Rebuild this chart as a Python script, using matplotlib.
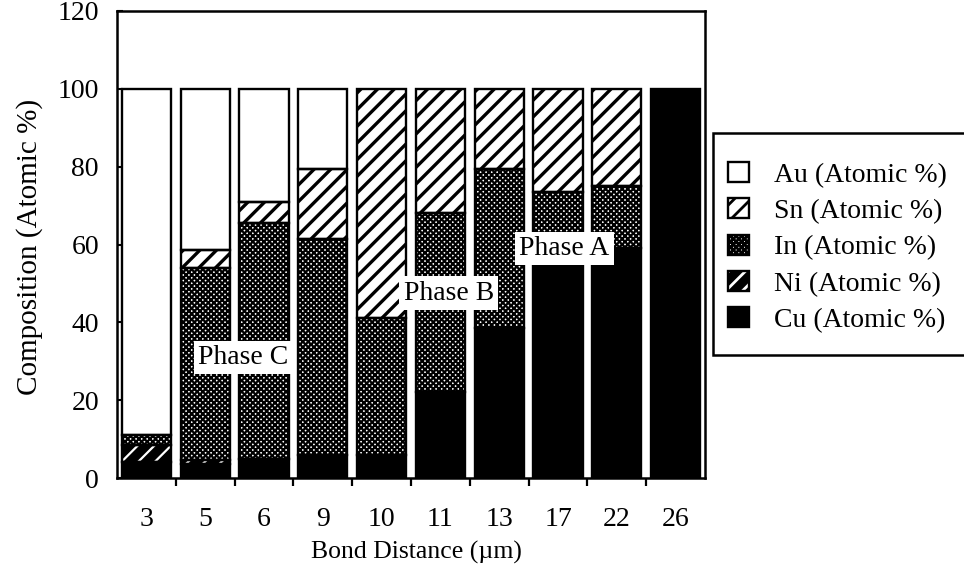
import matplotlib
matplotlib.use("Agg")
import matplotlib.pyplot as plt
from matplotlib.patches import Patch, Rectangle
import numpy as np

# Bond distance categories (µm) and atomic composition of each element (%)
distances = ["3", "5", "6", "9", "10", "11", "13", "17", "22", "26"]
cu = [4, 3.5, 5, 6, 6, 22, 38.5, 56, 59, 100]
ni = [4.5, 1, 0, 0, 0, 0, 0, 0, 0, 0]
indium = [2.5, 49.5, 60.5, 55.5, 35, 46, 41, 17.5, 16, 0]
sn = [0, 4.5, 5.5, 18, 59, 32, 20.5, 26.5, 25, 0]
au = [89, 41.5, 29, 20.5, 0, 0, 0, 0, 0, 0]

legend_labels = ["Au (Atomic %)", "Sn (Atomic %)", "In (Atomic %)",
                 "Ni (Atomic %)", "Cu (Atomic %)"]
y_ticks = [0, 20, 40, 60, 80, 100, 120]

phase_names = ["Phase C", "Phase B", "Phase A"]
phase_x = [1.64, 5.14, 7.11]
phase_y = [31, 47.5, 59]

plt.rcParams["font.family"] = ["Liberation Serif", "DejaVu Serif"]
plt.rcParams["hatch.linewidth"] = 2.0
FS = 20

# fill style per element: face colour, hatch, hatch colour, hatch line width
styles = {
    "Cu": ("black", None, "black", 1.0),
    "Ni": ("black", "//", "white", 1.6),
    "In": ("white", "xxxxxx", "black", 1.6),
    "Sn": ("white", "//", "black", 2.4),
    "Au": ("white", None, "black", 1.0),
}
stack = [("Cu", cu), ("Ni", ni), ("In", indium), ("Sn", sn), ("Au", au)]

fig = plt.figure(figsize=(9.64, 5.69), dpi=100)
ax = fig.add_axes([117 / 964, 1 - 478 / 569, (705 - 117) / 964, (478 - 11) / 569])

x = np.arange(len(distances))
width = 0.84
bottom = np.zeros(len(distances))

for name, vals in stack:
    vals = np.asarray(vals, dtype=float)
    face, hatch, hcolor, hlw = styles[name]
    mask = vals > 0
    fill = ax.bar(x[mask], vals[mask], width, bottom=bottom[mask], color=face,
                  edgecolor=hcolor, linewidth=0, hatch=hatch, zorder=2)
    for p in fill:
        if hasattr(p, "set_hatch_linewidth"):
            p.set_hatch_linewidth(hlw)
    ax.bar(x[mask], vals[mask], width, bottom=bottom[mask], fill=False,
           edgecolor="black", linewidth=1.7, zorder=3)
    bottom = bottom + vals

ax.set_xlim(-0.5, len(distances) - 0.5)
ax.set_ylim(0, 120)
for s in ax.spines.values():
    s.set_linewidth(1.8)

ax.set_yticks(y_ticks)
ax.tick_params(axis="y", direction="in", length=4, width=1.5, pad=13,
               labelsize=FS)
ax.set_xticks(x)
ax.set_xticklabels(distances)
ax.set_xticks(np.arange(len(distances) - 1) + 0.5, minor=True)
ax.tick_params(axis="x", which="major", length=0, pad=21, labelsize=FS)
ax.tick_params(axis="x", which="minor", direction="out", length=6, width=1.6)

fig.text(416 / 964, 1 - 552 / 569, "Bond Distance (µm)", ha="center",
         va="center", fontsize=18.5)
fig.text(30 / 964, 1 - 247 / 569, "Composition (Atomic %)", ha="center",
         va="center", rotation=90, fontsize=21)

for name, px, py in zip(phase_names, phase_x, phase_y):
    ax.text(px, py, name, ha="center", va="center", fontsize=FS, zorder=5,
            bbox=dict(facecolor="white", edgecolor="none", pad=3))

# legend frame, open past the right edge of the figure
fig.patches.append(Rectangle((713 / 964, 1 - 355 / 569), 0.4, 222 / 569,
                             transform=fig.transFigure, facecolor="white",
                             edgecolor="black", linewidth=1.8))

handles = []
for name in ["Au", "Sn", "In", "Ni", "Cu"]:
    face, hatch, hcolor, hlw = styles[name]
    fillp = Patch(facecolor=face, edgecolor=hcolor, linewidth=0, hatch=hatch)
    if hasattr(fillp, "set_hatch_linewidth"):
        fillp.set_hatch_linewidth(min(hlw, 1.4))
    edge = Patch(facecolor="none", edgecolor="black", linewidth=1.7)
    handles.append((fillp, edge))

fig.legend(handles, legend_labels, loc="upper left",
           bbox_to_anchor=(728 / 964, 1 - 162 / 569), frameon=False,
           fontsize=FS, handlelength=0.74, handleheight=0.74,
           handletextpad=0.9, labelspacing=0.38, borderpad=0, borderaxespad=0)

fig.savefig("out.png", dpi=100)
